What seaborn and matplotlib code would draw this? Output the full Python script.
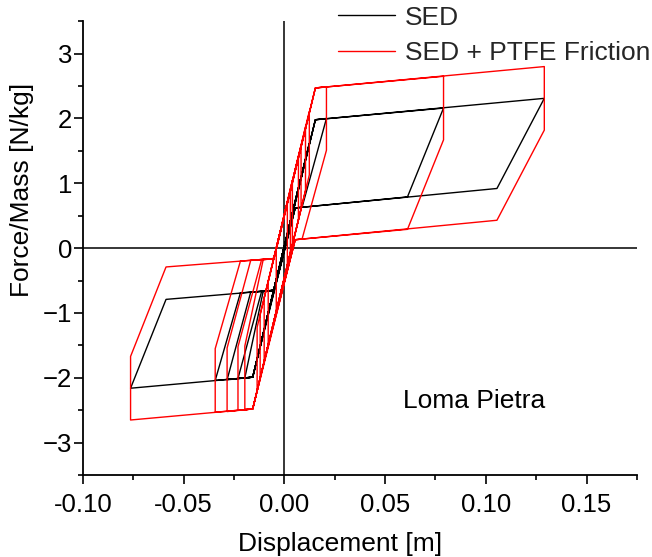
import numpy as np
import pandas as pd
import matplotlib
matplotlib.use("Agg")
import matplotlib.pyplot as plt
from matplotlib.ticker import MultipleLocator, FormatStrFormatter
import seaborn as sns

# ---- data (vertices of the hysteresis paths) ----
sed_x = [0.0000, 0.0154, 0.0209, 0.0088, 0.0054, -0.0157, -0.0343, -0.0218, -0.0052,
         0.0105, -0.0157, -0.0284, -0.0167, -0.0052, 0.0040, -0.0157, -0.0230, -0.0113,
         -0.0052, 0.0070, -0.0157, -0.0196, -0.0105, -0.0052, 0.0015, -0.0157, -0.0763,
         -0.0587, -0.0052, 0.0154, 0.0790, 0.0611, 0.0054, -0.0080, 0.0154, 0.1290,
         0.1055, 0.0054, -0.0120, 0.0124, -0.0135, 0.0083, -0.0100, 0.0030, -0.0040,
         0.0005]
sed_y = [0.00, 1.98, 2.00, 0.63, 0.62, -1.99, -2.04, -0.69, -0.65,
         1.37, -1.99, -2.03, -0.68, -0.65, 0.54, -1.99, -2.01, -0.67,
         -0.65, 0.93, -1.99, -2.00, -0.67, -0.65, 0.22, -1.99, -2.16,
         -0.79, -0.65, 1.98, 2.16, 0.79, 0.62, -1.01, 1.98, 2.31,
         0.92, 0.62, -1.51, 1.62, -1.71, 1.09, -1.26, 0.41, -0.49,
         0.08]

ptfe_x = [-0.0038, 0.0154, 0.0209, 0.0209, 0.0088, 0.0054, -0.0157, -0.0343, -0.0343,
          -0.0218, -0.0052, 0.0105, 0.0105, -0.0157, -0.0284, -0.0284, -0.0167, -0.0052,
          0.0040, 0.0040, -0.0157, -0.0230, -0.0230, -0.0113, -0.0052, 0.0070, 0.0070,
          -0.0157, -0.0196, -0.0196, -0.0105, -0.0052, 0.0015, 0.0015, -0.0157, -0.0763,
          -0.0763, -0.0587, -0.0052, 0.0154, 0.0790, 0.0790, 0.0611, 0.0054, -0.0080,
          -0.0080, 0.0154, 0.1290, 0.1290, 0.1055, 0.0054, -0.0120, -0.0120, 0.0124,
          0.0124, -0.0135, -0.0135, 0.0083, 0.0083, -0.0100, -0.0100, 0.0030, 0.0030,
          -0.0040, -0.0040, 0.0005]
ptfe_y = [0.00, 2.47, 2.49, 1.51, 0.14, 0.13, -2.48, -2.53, -1.55,
          -0.20, -0.16, 1.87, 0.89, -2.48, -2.52, -1.54, -0.19, -0.16,
          1.05, 0.07, -2.48, -2.50, -1.52, -0.18, -0.16, 1.42, 0.44,
          -2.48, -2.49, -1.51, -0.18, -0.16, 0.71, -0.27, -2.48, -2.65,
          -1.67, -0.29, -0.16, 2.47, 2.65, 1.67, 0.29, 0.13, -1.50,
          -0.52, 2.47, 2.80, 1.82, 0.43, 0.13, -2.00, -1.02, 2.11,
          1.13, -2.20, -1.22, 1.58, 0.60, -1.75, -0.77, 0.90, -0.08,
          -0.98, 0.00, 0.57]

series_names = ["SED", "SED + PTFE Friction"]
series_colors = ["black", "#ff0000"]
x_ticks = [-0.10, -0.05, 0.00, 0.05, 0.10, 0.15]
y_ticks = [-3, -2, -1, 0, 1, 2, 3]
annotation = "Loma Pietra"

df = pd.concat([
    pd.DataFrame({"x": sed_x, "y": sed_y, "series": series_names[0],
                  "step": np.arange(len(sed_x))}),
    pd.DataFrame({"x": ptfe_x, "y": ptfe_y, "series": series_names[1],
                  "step": np.arange(len(ptfe_x))}),
], ignore_index=True)

sns.set_theme(style="ticks")
plt.rcParams["font.family"] = ["Liberation Sans", "DejaVu Sans"]

fig = plt.figure(figsize=(6.52, 5.57), dpi=100)
ax = fig.add_axes([0.127, 0.147, 0.850, 0.815])

ax.axhline(0, color="black", lw=1.1, zorder=1)
ax.axvline(0, color="black", lw=1.1, zorder=1)

sns.lineplot(data=df, x="x", y="y", hue="series", sort=False, estimator=None,
             units="series", palette=dict(zip(series_names, series_colors)),
             linewidth=1.0, ax=ax, legend=True)

ax.set_xlim(-0.1, 0.175)
ax.set_ylim(-3.5, 3.5)
ax.set_xticks(x_ticks)
ax.set_yticks(y_ticks)
ax.xaxis.set_major_formatter(FormatStrFormatter("%.2f"))
ax.xaxis.set_minor_locator(MultipleLocator(0.025))
ax.yaxis.set_minor_locator(MultipleLocator(0.5))
ax.tick_params(axis="both", which="major", direction="out", length=6.5, width=1.2,
               labelsize=18.5, color="black", labelcolor="black")
ax.tick_params(axis="x", which="major", pad=6.5)
ax.tick_params(axis="y", which="major", pad=1)
ax.tick_params(axis="both", which="minor", direction="out", length=3.5, width=1.2,
               color="black")
for s in ["top", "right"]:
    ax.spines[s].set_visible(False)
for s in ["left", "bottom"]:
    ax.spines[s].set_linewidth(1.3)
    ax.spines[s].set_color("black")

ax.set_xlabel("Displacement [m]", fontsize=19, color="black")
ax.set_ylabel("Force/Mass [N/kg]", fontsize=19, color="black")
ax.xaxis.set_label_coords(0.464, -0.126)
ax.yaxis.set_label_coords(-0.088, 0.628)

ax.text(0.0588, -2.36, annotation, fontsize=19, color="black", va="center", ha="left")

handles, labels = ax.get_legend_handles_labels()
ax.legend(handles, labels, loc="upper left", bbox_to_anchor=(0.518, 0.99),
          bbox_transform=fig.transFigure, frameon=False, fontsize=19,
          handlelength=2.16, handletextpad=0.38, borderpad=0, borderaxespad=0,
          labelspacing=0.45)

fig.savefig("out.png", dpi=100)
